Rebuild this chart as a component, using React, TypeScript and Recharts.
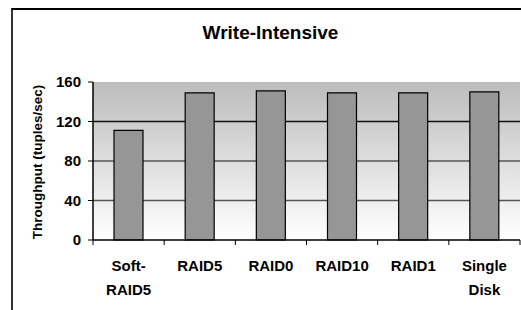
import { BarChart, Bar, XAxis, YAxis, CartesianGrid } from 'recharts'

const categories = ['Soft-RAID5', 'RAID5', 'RAID0', 'RAID10', 'RAID1', 'Single Disk']
const throughput = [111, 149, 151, 149, 149, 150]
const yTicks = [0, 40, 80, 120, 160]

const W = 521
const H = 310
const PLOT_LEFT = 93
const PLOT_RIGHT = 1
const FONT = '"Liberation Sans", Arial, sans-serif'

const chartData = categories.map((c, i) => ({ name: c, value: throughput[i] }))

const band = (W - PLOT_LEFT - PLOT_RIGHT) / categories.length

function labelLines(name: string) {
  return name.replace('-', '-\n').replace(' ', '\n').split('\n')
}

function XTick(props: any) {
  const { x, y, payload, index } = props
  const lines = labelLines(String(payload.value))
  const last = index === categories.length - 1
  return (
    <g>
      <line x1={x - band / 2} y1={y} x2={x - band / 2} y2={y + 5} stroke="#000" />
      {last && <line x1={x + band / 2} y1={y} x2={x + band / 2} y2={y + 5} stroke="#000" />}
      {lines.map((l, i) => (
        <text
          key={i}
          x={x}
          y={y + 31 + i * 24}
          textAnchor="middle"
          fontFamily={FONT}
          fontWeight="bold"
          fontSize={15}
          fill="#000"
        >
          {l}
        </text>
      ))}
    </g>
  )
}

function GridLine(props: any) {
  const { x1, x2, y1, y2, index } = props
  if (index === 0 || index === yTicks.length - 1) return <g />
  const stroke = index === 3 ? '#111' : '#555'
  return <line x1={x1} x2={x2} y1={y1} y2={y2} stroke={stroke} strokeWidth={1.5} />
}

export default function App() {
  return (
    <div style={{ position: 'absolute', left: 0, top: 0, width: W, height: H, background: '#fff', overflow: 'hidden' }}>
      <div
        style={{
          position: 'absolute',
          left: 11,
          top: 8,
          width: W,
          height: H,
          borderLeft: '2px solid #333',
          borderTop: '2px solid #000',
        }}
      />
      <div
        style={{
          position: 'absolute',
          left: 0,
          width: 541,
          top: 22,
          textAlign: 'center',
          fontFamily: FONT,
          fontWeight: 'bold',
          fontSize: 19,
          color: '#000',
        }}
      >
        Write-Intensive
      </div>
      <div
        style={{
          position: 'absolute',
          left: 37,
          top: 162,
          transform: 'translate(-50%, -50%) rotate(-90deg)',
          whiteSpace: 'nowrap',
          fontFamily: FONT,
          fontWeight: 'bold',
          fontSize: 13.5,
          color: '#000',
        }}
      >
        Throughput (tuples/sec)
      </div>
      <div style={{ position: 'absolute', left: 0, top: 0 }}>
        <BarChart
          width={W}
          height={H}
          data={chartData}
          margin={{ top: 82, right: PLOT_RIGHT, left: PLOT_LEFT - 40, bottom: 0 }}
          barCategoryGap={0}
        >
          <defs>
            <linearGradient id="plotBg" x1="0" y1="0" x2="0" y2="1">
              <stop offset="0%" stopColor="#bcbcbc" />
              <stop offset="100%" stopColor="#ffffff" />
            </linearGradient>
          </defs>
          <CartesianGrid
            vertical={false}
            horizontal={GridLine}
            fill="url(#plotBg)"
            fillOpacity={1}
          />
          <XAxis
            dataKey="name"
            height={70}
            tickLine={false}
            tickSize={0}
            tickMargin={0}
            axisLine={{ stroke: '#000', strokeWidth: 1.5 }}
            tick={<XTick />}
            interval={0}
          />
          <YAxis
            width={40}
            domain={[0, 160]}
            ticks={yTicks}
            tickSize={5}
            tickMargin={7}
            tickLine={{ stroke: '#000' }}
            axisLine={{ stroke: '#000', strokeWidth: 1.5 }}
            tick={{ fill: '#000', fontFamily: FONT, fontWeight: 'bold', fontSize: 15 }}
          />
          <YAxis
            yAxisId="right"
            orientation="right"
            width={0}
            domain={[0, 160]}
            tick={false}
            tickLine={false}
            axisLine={{ stroke: '#888', strokeWidth: 2 }}
          />
          <Bar
            dataKey="value"
            barSize={29}
            fill="#969696"
            stroke="#000"
            strokeWidth={1.2}
            isAnimationActive={false}
          />
        </BarChart>
      </div>
    </div>
  )
}
